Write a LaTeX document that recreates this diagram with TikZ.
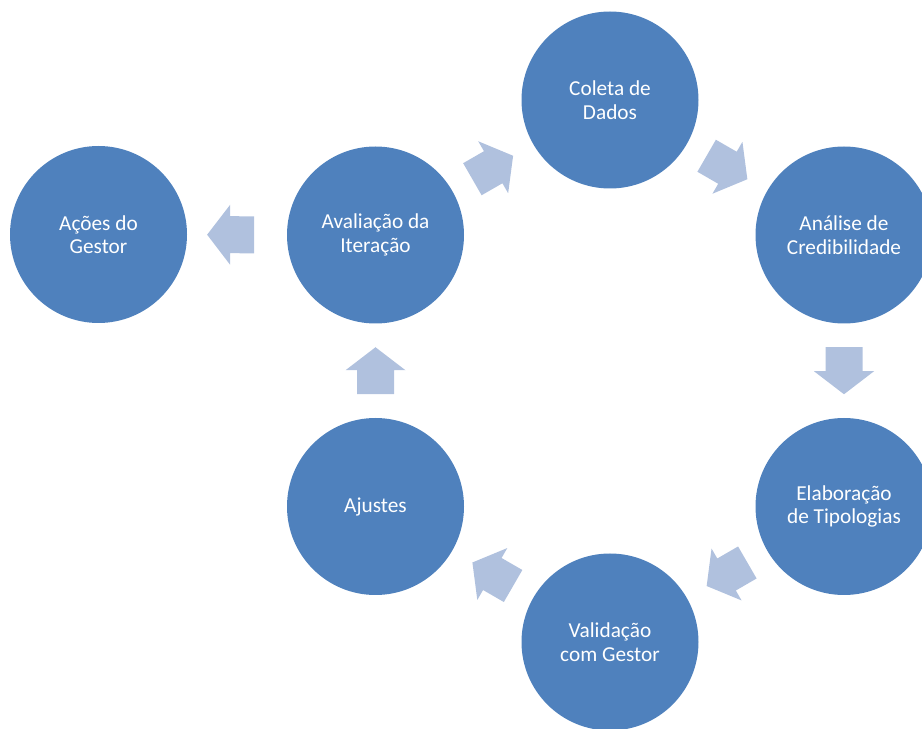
\documentclass[tikz,border=0pt]{standalone}
\usepackage{fontspec}
\setmainfont{Carlito}
\usetikzlibrary{calc}
\definecolor{circblue}{HTML}{4F81BD}
\definecolor{arrblue}{HTML}{B0C1DE}
\tikzset{
  stage/.style={circle, fill=circblue, minimum size=177pt, inner sep=0pt,
    text=white, align=center, font=\fontsize{21.3pt}{23.5pt}\selectfont},
  arrowfill/.style={fill=arrblue}
}
\newcommand\cyclearrow[3][0.5]{%
  \pgfmathanglebetweenpoints{\pgfpointanchor{#2}{center}}{\pgfpointanchor{#3}{center}}%
  \let\cycarrang\pgfmathresult
  \fill[arrowfill, shift={($(#2)!#1!(#3)$)}, rotate=\cycarrang]
    (-23.5,-18.5) -- (0.5,-18.5) -- (0.5,-30) -- (23.5,0) -- (0.5,30)
    -- (0.5,18.5) -- (-23.5,18.5) -- cycle;
}
\begin{document}
\begin{tikzpicture}[x=1pt,y=1pt]
\useasboundingbox (0,0) rectangle (922,729);
\clip (0,0) rectangle (922,729);
\node[stage] (acoes)   at (98.5,494.5) {Ações do\\Gestor};
\node[stage] (aval)    at (375.5,494)  {Avaliação da\\Iteração};
\node[stage] (coleta)  at (610,629)    {Coleta de\\Dados};
\node[stage] (analise) at (844,494)    {Análise de\\Credibilidade};
\node[stage] (elab)    at (844,222.5)  {Elaboração\\de Tipologias};
\node[stage] (valid)   at (610,87)     {Validação\\com Gestor};
\node[stage] (ajustes) at (375.5,222.5){Ajustes};
\cyclearrow{aval}{coleta}
\cyclearrow{coleta}{analise}
\cyclearrow{analise}{elab}
\cyclearrow{elab}{valid}
\cyclearrow{valid}{ajustes}
\cyclearrow{ajustes}{aval}
\cyclearrow[0.523]{aval}{acoes}
\end{tikzpicture}
\end{document}
